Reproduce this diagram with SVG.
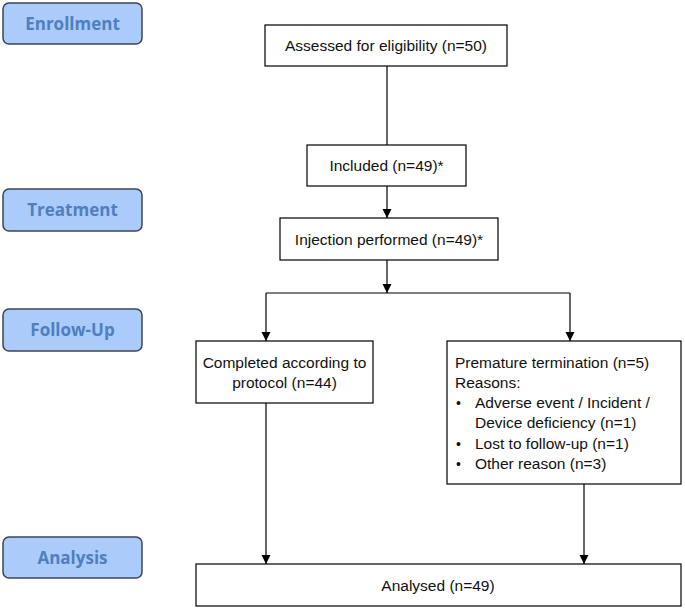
<svg xmlns="http://www.w3.org/2000/svg" width="685" height="610" viewBox="0 0 685 610">
<defs>
<marker id="ah" markerWidth="10" markerHeight="10" refX="9" refY="5" orient="auto" markerUnits="userSpaceOnUse">
<path d="M0,0.5 L9,5 L0,9.5 Z" fill="#000"/>
</marker>
<style>
.stage rect{fill:#abcbfa;stroke:#3b4552;stroke-width:1.5}
.stage text{font-family:"Open Sans","Noto Sans",sans-serif;font-weight:bold;font-size:17px;fill:#4f7fbf;text-anchor:middle}
.box rect{fill:#fff;stroke:#000;stroke-width:1.2}
.box text{font-family:"Liberation Sans",Arial,sans-serif;font-size:15.5px;fill:#111}
.box text.b{font-size:14px}
.c{text-anchor:middle}
.conn path{fill:none;stroke:#000;stroke-width:1.2}
</style>
</defs>
<rect width="685" height="610" fill="#fff"/>
<g id="stage-enrollment" class="stage"><rect x="3" y="3" width="139" height="41" rx="6"/><text x="72.5" y="29.5">Enrollment</text></g>
<g id="stage-treatment" class="stage"><rect x="3" y="189" width="139" height="42" rx="6"/><text x="72.5" y="216">Treatment</text></g>
<g id="stage-followup" class="stage"><rect x="3" y="309" width="139" height="42" rx="6"/><text x="72.5" y="336">Follow-Up</text></g>
<g id="stage-analysis" class="stage"><rect x="3" y="537" width="139" height="41" rx="6"/><text x="72.5" y="563.5">Analysis</text></g>

<g id="assessed" class="box"><rect x="265" y="25" width="242" height="41"/><text class="c" x="386" y="51">Assessed for eligibility (n=50)</text></g>
<g id="included" class="box"><rect x="307" y="145" width="159" height="41"/><text class="c" x="386.5" y="171">Included (n=49)*</text></g>
<g id="injection" class="box"><rect x="280" y="218" width="218" height="42"/><text class="c" x="389" y="244.5">Injection performed (n=49)*</text></g>
<g id="completed" class="box"><rect x="196" y="341" width="177" height="62"/><text class="c" x="284.5" y="368">Completed according to</text><text class="c" x="284.5" y="388">protocol (n=44)</text></g>
<g id="premature" class="box"><rect x="447" y="341" width="234" height="143"/>
<text x="455" y="368">Premature termination (n=5)</text>
<text x="455" y="388">Reasons:</text>
<text class="b" x="456" y="407.5">•</text><text x="475" y="408">Adverse event / Incident /</text>
<text x="475" y="428">Device deficiency (n=1)</text>
<text class="b" x="456" y="448.5">•</text><text x="475" y="449">Lost to follow-up (n=1)</text>
<text class="b" x="456" y="468.5">•</text><text x="475" y="469">Other reason (n=3)</text>
</g>
<g id="analysed" class="box"><rect x="196" y="564" width="485" height="42"/><text class="c" x="438" y="591">Analysed (n=49)</text></g>

<g id="connectors" class="conn">
<path d="M387,66 V145"/>
<path d="M387,186 V218" marker-end="url(#ah)"/>
<path d="M387,260 V293" marker-end="url(#ah)"/>
<path d="M266,293 H570"/>
<path d="M266,293 V341" marker-end="url(#ah)"/>
<path d="M570,293 V341" marker-end="url(#ah)"/>
<path d="M266,403 V564" marker-end="url(#ah)"/>
<path d="M584,484 V564" marker-end="url(#ah)"/>
</g>
</svg>
